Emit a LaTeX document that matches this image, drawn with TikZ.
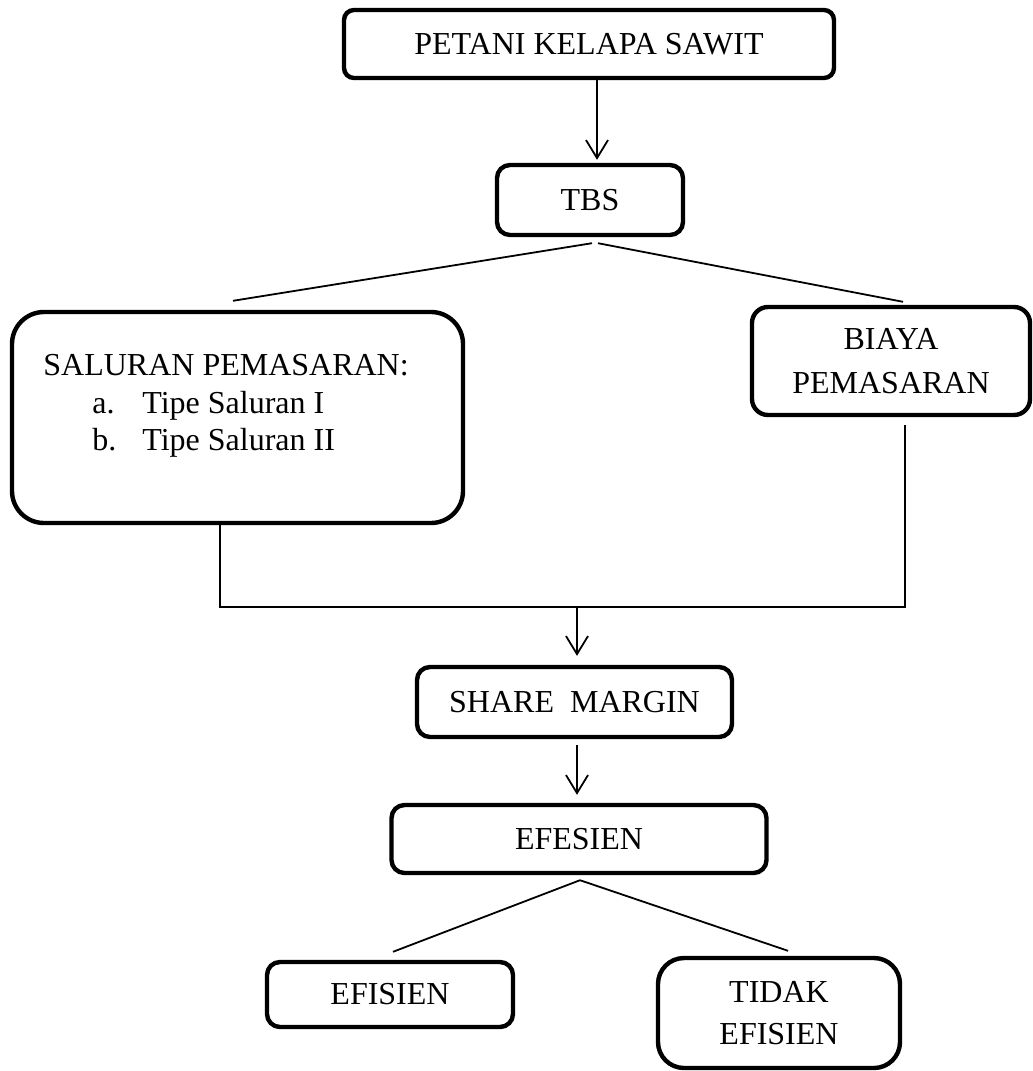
\documentclass[tikz,border=0pt]{standalone}
\usepackage{fontspec}
\setmainfont{Liberation Serif}
\usetikzlibrary{arrows.meta, positioning}
\tikzset{
  boxnode/.style   = {draw, line width=2.2pt, rounded corners=#1, align=center,
                      inner sep=0pt, font=\fontsize{16}{22}\selectfont},
  boxnode/.default = 6.5pt,
  conn/.style      = {line width=0.9pt, black},
  arr/.style       = {conn, -{Straight Barb[length=9pt, width=11pt]}},
  lbl/.style       = {font=\fontsize{16}{19}\selectfont, inner sep=0pt},
}

\begin{document}
\begin{tikzpicture}[x=0.5pt, y=-0.5pt]
\useasboundingbox (0,0) rectangle (1033,1071);
% grower and fresh fruit bunches
\node[boxnode=5pt, minimum width=245pt, minimum height=34pt] (petani) at (589,44) {PETANI KELAPA SAWIT};
\node[boxnode, minimum width=93pt, minimum height=35pt] (tbs) at (590,200) {TBS};
\draw[arr] ([xshift=4pt]petani.south) -- ([xshift=4pt, yshift=1.5pt]petani.south |- tbs.north);
% channels and costs
\node[boxnode=16pt, minimum width=225.5pt, minimum height=105.5pt] (sal) at (237.5,417.5) {};
\node[lbl, anchor=base west] (salhd) at (43,375) {SALURAN PEMASARAN:};
\node[lbl, anchor=base west] (sala) at (92,413) {\makebox[25pt][l]{a.}Tipe Saluran I};
\node[lbl, anchor=base west] (salb) at (92,450) {\makebox[25pt][l]{b.}Tipe Saluran II};
\node[boxnode=8pt, minimum width=139pt, minimum height=54pt] (biaya) at (891,361) {BIAYA\\PEMASARAN};
\draw[conn] ([xshift=1pt, yshift=-3pt]tbs.south) -- ([xshift=-2.25pt, yshift=4.5pt]sal.north);
\draw[conn] ([xshift=4pt, yshift=-3pt]tbs.south) -- ([xshift=6pt, yshift=1.5pt]biaya.north);
\draw[conn] ([xshift=-8.75pt]sal.south) -- ++(0,82) coordinate (joinL)
  -| ([xshift=7pt, yshift=-4pt]biaya.south);
% share margin and efficiency
\node[boxnode, minimum width=157.5pt, minimum height=35pt] (share) at (574.5,702) {SHARE\ \ MARGIN};
\node[boxnode, minimum width=187.5pt, minimum height=34pt] (efes) at (579,839) {EFESIEN};
\draw[arr] ([xshift=1.25pt]share.north |- joinL) -- ([xshift=1.25pt, yshift=4.5pt]share.north);
\draw[arr] ([xshift=1.25pt, yshift=-3pt]share.south) -- ([xshift=1.25pt, yshift=4pt]share.south |- efes.north);
\node[boxnode, minimum width=123pt, minimum height=32.5pt] (efis) at (390,994.5) {EFISIEN};
\node[boxnode=13pt, minimum width=121pt, minimum height=55pt, font=\fontsize{16}{21}\selectfont] (tidak) at (779,1013) {TIDAK\\EFISIEN};
\draw[conn] ([xshift=0.5pt, yshift=-2.5pt]efes.south) -- ([xshift=1.5pt, yshift=4pt]efis.north);
\draw[conn] ([xshift=0.5pt, yshift=-2.5pt]efes.south) -- ([xshift=4.5pt, yshift=2.5pt]tidak.north);
\end{tikzpicture}
\end{document}
